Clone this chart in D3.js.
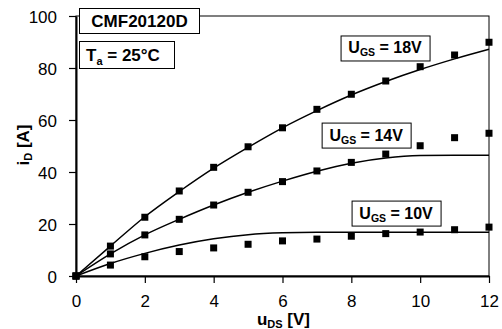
<!DOCTYPE html>
<html>
<head>
<meta charset="utf-8">
<script src="https://cdn.jsdelivr.net/npm/d3@7"></script>
<style>
  html, body { margin: 0; padding: 0; background: #fff; }
  svg { display: block; font-family: "Liberation Sans", Arial, sans-serif; }
</style>
</head>
<body>
<figure id="chart" style="margin:0"></figure>
<script>
const uDS = [0, 1, 2, 3, 4, 5, 6, 7, 8, 9, 10, 11, 12];
const xTicks = [0, 2, 4, 6, 8, 10, 12];
const yTicks = [0, 20, 40, 60, 80, 100];

// measured points
const meas18 = [0, 11.5, 22.6, 32.7, 41.8, 49.7, 57.0, 64.1, 69.9, 75.0, 80.5, 85.0, 89.9];
const meas14 = [0, 8.5, 15.8, 21.8, 27.3, 32.2, 36.3, 40.4, 43.7, 46.9, 50.1, 53.2, 54.9];
const meas10 = [0, 4.2, 7.4, 9.4, 10.8, 12.2, 13.5, 14.2, 15.3, 16.3, 16.9, 17.8, 18.8];

// model curves
const model18 = [0, 11.5, 22.8, 32.5, 41.5, 49.5, 57.0, 63.6, 69.6, 74.8, 79.4, 83.5, 87.2];
const model14 = [0, 8.5, 15.8, 21.8, 27.3, 32.2, 36.5, 40.3, 43.4, 45.4, 46.3, 46.4, 46.4];
const model10 = [0, 4.8, 8.7, 11.9, 14.3, 15.9, 16.6, 16.8, 16.8, 16.8, 16.8, 16.8, 16.8];

// label box centres in data units
const labels = [
  { text: "18V", u: 8.98, i: 87.7 },
  { text: "14V", u: 8.43, i: 54.2 },
  { text: "10V", u: 9.30, i: 24.2 }
];

const W = 502, H = 329;
const m = { left: 76, top: 16, right: 13, bottom: 53 };
const w = W - m.left - m.right, h = H - m.top - m.bottom;

const svg = d3.select("#chart").append("svg")
  .attr("width", W).attr("height", H);
const g = svg.append("g").attr("transform", "translate(" + m.left + "," + m.top + ")");

const x = d3.scaleLinear().domain([0, 12]).range([0, w]);
const y = d3.scaleLinear().domain([0, 100]).range([h, 0]);

// frame top/right
g.append("rect").attr("x", 0).attr("y", 0).attr("width", w).attr("height", h)
  .attr("fill", "none").attr("stroke", "#000").attr("stroke-width", 1);

// axes
const xAxis = g.append("g").attr("transform", "translate(0," + h + ")")
  .call(d3.axisBottom(x).tickValues(xTicks).tickSize(7).tickSizeOuter(0));
const yAxis = g.append("g")
  .call(d3.axisLeft(y).tickValues(yTicks).tickSize(7).tickSizeOuter(0));
[xAxis, yAxis].forEach(a => {
  a.select(".domain").attr("stroke-width", 2);
  a.selectAll(".tick line").attr("stroke-width", 1.2);
  a.selectAll("text").attr("font-size", 17).attr("fill", "#000")
    .attr("font-family", "Liberation Sans, Arial, sans-serif");
});
xAxis.selectAll("text").attr("y", 0).attr("dy", 0)
  .attr("transform", "translate(0,30.5)");
yAxis.selectAll("text").attr("x", -19).attr("dy", "0.36em");

// model lines
const line = d3.line().x((d, i) => x(uDS[i])).y(d => y(d)).curve(d3.curveMonotoneX);
[model18, model14, model10].forEach(s => {
  g.append("path").datum(s).attr("d", line)
    .attr("fill", "none").attr("stroke", "#000").attr("stroke-width", 1.5);
});

// measured squares
const sq = 7;
[meas18, meas14, meas10].forEach(s => {
  g.selectAll(null).data(s).enter().append("rect")
    .attr("x", (d, i) => x(uDS[i]) - sq / 2)
    .attr("y", d => y(d) - sq / 2)
    .attr("width", sq).attr("height", sq)
    .attr("fill", "#000");
});

// text boxes
function box(x0, y0, bw, bh) {
  svg.append("rect").attr("x", x0 + 0.5).attr("y", y0 + 0.5)
    .attr("width", bw).attr("height", bh)
    .attr("fill", "#fff").attr("stroke", "#000").attr("stroke-width", 1);
}

box(79, 8, 120, 25);
svg.append("text").attr("x", 139.5).attr("y", 27).attr("text-anchor", "middle")
  .attr("font-size", 17).attr("font-weight", "bold").text("CMF20120D");

box(79, 41, 95, 27);
const ta = svg.append("text").attr("x", 86).attr("y", 61)
  .attr("font-size", 17).attr("font-weight", "bold");
ta.append("tspan").text("T");
ta.append("tspan").attr("font-size", 11).attr("dy", 4).text("a");
ta.append("tspan").attr("dy", -4).text(" = 25°C");

labels.forEach(l => {
  const cx = m.left + x(l.u), cy = m.top + y(l.i);
  box(cx - 44.5, cy - 12.5, 89, 25);
  const t = svg.append("text").attr("x", cx).attr("y", cy + 5.5)
    .attr("text-anchor", "middle").attr("font-size", 16).attr("font-weight", "bold");
  t.append("tspan").text("U");
  t.append("tspan").attr("font-size", 10.5).attr("dy", 3).text("GS");
  t.append("tspan").attr("dy", -3).text(" = " + l.text);
});

// axis titles
const xt = svg.append("text").attr("x", m.left + x(6) + 1).attr("y", 325)
  .attr("text-anchor", "middle").attr("font-size", 17).attr("font-weight", "bold");
xt.append("tspan").text("u");
xt.append("tspan").attr("font-size", 11).attr("dy", 3).text("DS");
xt.append("tspan").attr("dy", -3).text(" [V]");

const yt = svg.append("text")
  .attr("transform", "translate(29,145) rotate(-90)")
  .attr("text-anchor", "middle").attr("font-size", 17).attr("font-weight", "bold");
yt.append("tspan").text("i");
yt.append("tspan").attr("font-size", 11).attr("dy", 3).text("D");
yt.append("tspan").attr("dy", -3).text(" [A]");
</script>
</body>
</html>
